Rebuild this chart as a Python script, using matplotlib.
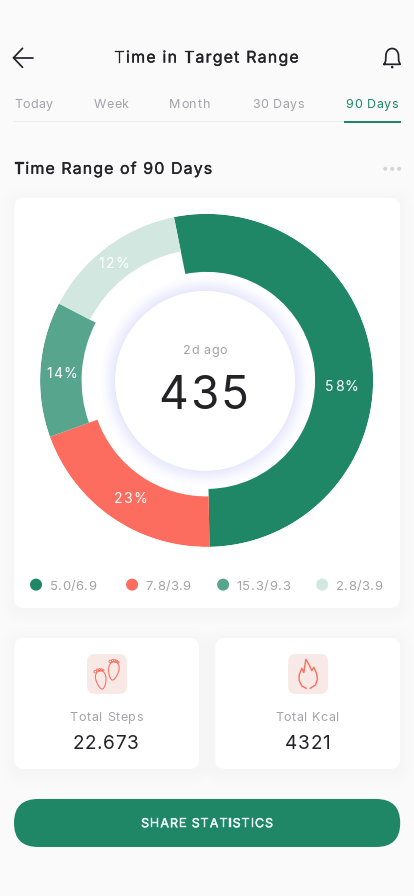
import numpy as np
import matplotlib
matplotlib.use("Agg")
import matplotlib.pyplot as plt
import matplotlib.patheffects as pe
from matplotlib.patches import FancyBboxPatch, Circle, Rectangle
from matplotlib.text import Text
from matplotlib.transforms import IdentityTransform

# ---- data ----
slice_labels = ["58%", "23%", "14%", "12%"]
slice_sweep_deg = [190.3, 71.2, 47.3, 51.2]   # drawn arc sizes
start_angle_deg = -11.3
legend_labels = ["5.0/6.9", "7.8/3.9", "15.3/9.3", "2.8/3.9"]
tab_labels = ["Today", "Week", "Month", "30 Days", "90 Days"]
center_caption = "2d ago"
center_value = "435"
stat_titles = ["Total Steps", "Total Kcal"]
stat_values = ["22.673", "4321"]

# ---- styles ----
GREEN, CORAL, TEAL, PALE = "#1f8766", "#fc6d5f", "#57a58c", "#d2e7e0"
slice_colors = [GREEN, CORAL, TEAL, PALE]
slice_inner = [108.5, 116, 125, 131.5]
OUTER = 166.5
GREY, DARK = "#a3a3a8", "#232327"
W, H = 414, 896
FONT = "Inter"


class Spaced(Text):
    """Text with letter spacing so that it spans [x0, x1] in pixels."""
    def __init__(self, x0, x1, y, s, stroke=0, **kw):
        super().__init__(x0, y, s, va="baseline", ha="left", **kw)
        self.x1 = x1
        self.stroke = stroke

    def draw(self, renderer):
        s = self.get_text()
        fp = self.get_fontproperties()
        width = lambda t: renderer.get_text_width_height_descent(t, fp, False)[0]
        tr = self.get_transform()
        xa, ya = tr.transform(self.get_position())
        xb, _ = tr.transform((self.x1, self.get_position()[1]))
        gap = (xb - xa - width(s)) / max(len(s) - 1, 1)
        for i, ch in enumerate(s):
            if ch == " ":
                continue
            px = xa + width(s[:i + 1]) - width(ch) + gap * i
            t = Text(px, ya, ch, fontproperties=fp, color=self.get_color(),
                     ha="left", va="baseline", transform=IdentityTransform())
            if self.stroke:
                t.set_path_effects([pe.withStroke(linewidth=self.stroke,
                                                  foreground=self.get_color())])
            t.set_figure(self.get_figure())
            t.draw(renderer)


fig = plt.figure(figsize=((W + 0.2) / 100, (H + 0.2) / 100), dpi=100, facecolor="#fafafa")


def layer(z):
    ax = fig.add_axes([0, 0, 1, 1], zorder=z)
    ax.set_xlim(0, W)
    ax.set_ylim(H, 0)
    ax.axis("off")
    return ax


bg = layer(0)
top = layer(2)


def rrect(ax, x0, y0, x1, y1, r, color, **kw):
    ax.add_patch(FancyBboxPatch((x0 + r, y0 + r), x1 - x0 - 2 * r, y1 - y0 - 2 * r,
                                boxstyle=f"round,pad={r},rounding_size={r}",
                                fc=color, ec="none", **kw))


def card(x0, y0, x1, y1, r=10):
    for g in (14, 10, 6, 3):
        rrect(bg, x0 - g, y0 - g + 3, x1 + g, y1 + g + 3, r + g, "#000000", alpha=0.0035)
    rrect(bg, x0, y0, x1, y1, r, "white")


def label(x0, x1, y, s, px, color, stroke=0):
    top.add_artist(Spaced(x0, x1, y, s, stroke=stroke, fontfamily=FONT, fontsize=px * 0.72,
                          color=color, transform=top.transData))


# header
label(114.5, 298.5, 62.7, "Time in Target Range", 16, DARK, 0.22)
top.plot([22.5, 13.5, 22.5], [48.5, 58, 67.5], color=DARK, lw=1.25,
         solid_capstyle="round", solid_joinstyle="miter")
top.plot([13.5, 33], [58, 58], color=DARK, lw=1.25, solid_capstyle="round")
# bell
t = np.linspace(np.pi, 0, 40)
bx = np.r_[384, 385.5, 392 + 6.3 * np.cos(t), 398.5, 400, 384]
by = np.r_[64.5, 61, 55.7 - 7 * np.sin(t), 61, 64.5, 64.5]
top.plot(bx, by, color=DARK, lw=1.25, solid_joinstyle="round")
top.add_patch(Circle((392, 67.3), 1.3, fc=DARK, ec="none"))

# tabs
tab_x = [(14.5, 52.5), (94, 128.5), (169, 210), (252, 304), (345.5, 398)]
for i, (s, (a, b)) in enumerate(zip(tab_labels, tab_x)):
    label(a, b, 108, s, 12.5, GREEN if i == 4 else GREY)
bg.add_patch(Rectangle((13, 121.3), 387, 1.3, fc="#eeeeee", ec="none"))
top.add_patch(Rectangle((344, 121), 56.5, 2, fc=GREEN, ec="none"))

# section title
label(14, 212, 174, "Time Range of 90 Days", 16, DARK, 0.22)
for x in (385, 392, 399):
    top.add_patch(Circle((x, 169), 2, fc="#d6d6d6", ec="none"))

# main card
card(14, 198, 400, 608)

# centre glow
CX, CY = 205, 381
for r in np.arange(106, 89.5, -0.5):
    f = (r - 90) / 16
    c = np.array([232, 232, 253]) * (1 - f) ** 1.3 + np.array([255, 255, 255]) * (1 - (1 - f) ** 1.3)
    bg.add_patch(Circle((CX, CY), r, fc=c / 255, ec="none"))
bg.add_patch(Circle((CX, CY), 90, fc="white", ec="none"))

# donut
pol = fig.add_axes([40 / W, 1 - 547 / H, 333 / W, 333 / H], projection="polar", zorder=1)
pol.patch.set_alpha(0)
pol.set_theta_zero_location("N")
pol.set_theta_direction(-1)
edges = start_angle_deg + np.r_[0, np.cumsum(slice_sweep_deg)]
for a0, sw, inner, col in zip(edges[:-1], slice_sweep_deg, slice_inner, slice_colors):
    pol.bar(np.deg2rad(a0 + sw / 2), OUTER - inner, width=np.deg2rad(sw), bottom=inner,
            color=col, linewidth=0)
pol.set_ylim(0, OUTER)
pol.axis("off")

# slice labels
slice_pos = [(325.2, 358.3, 391), (113.8, 146.7, 502.7), (46.2, 77.7, 378.3), (98.8, 129.3, 267.7)]
for s, (a, b, y) in zip(slice_labels, slice_pos):
    label(a, b, y, s, 14, "white")

# centre text
label(183, 227, 354.3, center_caption, 12.5, GREY)
label(158.5, 248.5, 409.3, center_value, 46, DARK)

# legend
leg_dot = [36, 132, 223, 322]
leg_txt = [(50, 96), (145.5, 190.5), (236.5, 290), (335.5, 382)]
for s, c, x, (a, b) in zip(legend_labels, slice_colors, leg_dot, leg_txt):
    top.add_patch(Circle((x, 584.7), 6, fc=c, ec="none"))
    label(a, b, 589.5, s, 13, GREY)

# stat cards
card(14, 638, 199, 769)
card(215, 638, 400, 769)
rrect(top, 87, 654, 127, 694, 8, "#f8e9e6")
rrect(top, 288, 654, 328, 694, 8, "#f8e9e6")
title_x = [(69.5, 143), (275, 339)]
value_x = [(72.5, 138), (284.5, 330)]
for s, (a, b) in zip(stat_titles, title_x):
    label(a, b, 721, s, 12.5, GREY)
for s, (a, b) in zip(stat_values, value_x):
    label(a, b, 749, s, 19, DARK)


# footprints
def foot(cx, cy, angle):
    rot = np.deg2rad(angle)
    u = np.linspace(0, 2 * np.pi, 60)
    lx = 5.0 * np.sin(u) * (1 + 0.3 * np.cos(u))
    ly = -9.2 * np.cos(u)
    toes = [(-4.6, -9.0, 1.3), (-2.4, -10.2, 1.1), (-0.3, -10.5, 1.0), (1.7, -10.2, 0.9), (3.5, -9.3, 0.8)]
    cr, sr = np.cos(rot), np.sin(rot)
    top.plot(cx + lx * cr - ly * sr, cy + lx * sr + ly * cr, color=CORAL, lw=0.75)
    for tx, ty, r in toes:
        top.add_patch(Circle((cx + tx * cr - ty * sr, cy + tx * sr + ty * cr), r,
                             fc="none", ec=CORAL, lw=0.6))


foot(101, 680, -8)
foot(113.5, 671, 8)

# flame
fz = [(918, 385), (905, 378), (897, 362), (897, 345), (905, 325), (911, 338), (914, 318), (917, 298),
      (927, 315), (935, 332), (941, 322), (949, 340), (952, 358), (946, 375), (930, 385)]
top.plot([p[0] / 3 for p in fz], [560 + p[1] / 3 for p in fz], color=CORAL, lw=1.0, solid_joinstyle="round")

# button
rrect(bg, 14, 799, 400, 847, 24, GREEN)
label(141, 273, 827.3, "SHARE STATISTICS", 12.5, "#eef7f3", 0.3)

fig.savefig("out.png", dpi=100, facecolor=fig.get_facecolor())
